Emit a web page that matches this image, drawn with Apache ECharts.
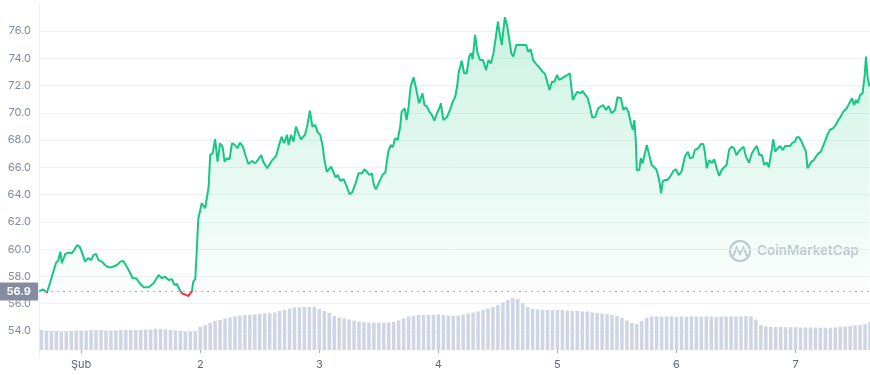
<!DOCTYPE html>
<html><head><meta charset="utf-8">
<script src="https://cdn.jsdelivr.net/npm/echarts@6/dist/echarts.min.js"></script>
<style>html,body{margin:0;padding:0;background:#fff}#c{width:870px;height:375px}</style>
</head><body><div id="c"></div>
<script>
// X tick labels (hours since 1 Feb 00:00)
const dayTicks = [0, 24, 48, 72, 96, 120, 144];
const dayLabels = ['Şub', '2', '3', '4', '5', '6', '7'];
// Y axis
const yMin = 52, yMax = 78, yStep = 2;
const baseline = 56.9;

// Price series: hours since 1 Feb 00:00 and price
const priceHours = [
-8.5,-7.7,-6.9,-6.3,-5.6,-5.1,-4.6,-4.2,-3.9,-3.2,-2.6,-1.9,-1.4,-0.8,-0.3,0.1,0.8,1.4,2.0,2.5,3.0,3.5,4.2,4.8,5.5,6.1,6.5,7.2,7.9,8.5,9.2,9.9,10.4,11.1,11.8,12.6,13.6,14.6,15.6,16.3,16.9,17.6,18.3,18.8,19.3,19.8,20.3,21.1,21.6,22.3,22.6,23.0,23.3,23.6,
24.3,25.0,25.7,26.0,26.5,27.0,27.5,28.0,28.5,28.9,29.4,29.9,30.4,31.0,31.5,32.0,32.6,33.1,33.7,34.4,35.1,35.7,36.3,36.7,37.5,38.4,39.3,39.8,40.4,40.9,41.5,41.8,42.3,42.8,43.3,43.8,44.3,45.1,45.6,46.1,46.6,47.2,47.6,48.2,48.7,49.0,49.5,49.8,
50.4,50.8,51.3,51.7,52.2,52.9,53.4,54.1,54.6,55.2,55.9,56.6,57.1,57.6,58.1,58.6,59.0,59.4,60.1,60.8,61.3,61.9,62.4,62.8,63.3,63.8,64.3,64.6,65.2,65.6,66.0,66.4,67.0,67.5,68.1,68.8,69.2,69.7,70.2,70.7,71.2,71.7,72.2,72.5,73.0,73.7,
74.4,74.9,75.4,75.8,76.1,76.4,76.7,77.2,77.7,78.2,78.6,78.9,79.4,79.9,80.4,81.0,81.6,82.1,82.6,83.1,83.6,84.0,84.4,84.8,85.1,85.4,85.9,86.3,86.7,87.1,87.7,88.1,88.7,89.1,89.7,90.1,90.6,91.1,91.6,92.2,92.6,93.0,93.5,94.0,94.4,94.9,95.4,95.9,96.4,96.9,97.4,98.0,98.5,
99.1,99.5,100.0,100.6,101.1,101.6,102.1,102.6,103.0,103.6,104.2,104.6,105.2,105.8,106.3,106.9,107.6,108.1,108.8,109.3,109.8,110.3,110.8,111.2,111.5,111.8,112.0,112.5,112.8,113.2,113.5,114.0,114.5,115.0,115.5,116.0,116.5,116.9,117.2,117.7,118.2,118.7,119.4,119.9,
120.4,121.0,121.7,122.3,122.7,123.3,123.7,124.4,124.9,125.4,125.7,126.1,126.6,127.1,127.6,128.1,128.6,129.1,129.6,130.1,130.6,131.1,131.6,132.1,132.6,133.0,133.5,134.0,134.6,135.2,135.6,136.2,136.7,137.2,137.7,138.2,138.6,139.2,139.5,139.9,
140.4,140.9,141.4,141.9,142.3,142.9,143.4,143.9,144.2,144.7,145.2,145.7,146.1,146.4,146.8,147.2,147.7,148.1,148.6,149.1,149.5,149.9,150.4,150.9,151.6,152.1,152.6,153.1,153.6,154.0,154.3,154.6,155.0,155.4,155.8,156.2,156.5,157.0,157.5,157.9,158.2,158.5,158.9
];
const prices = [
56.90,57.06,56.82,57.50,58.35,58.97,59.20,59.82,58.97,59.65,59.75,59.70,59.94,60.30,60.18,59.82,59.09,59.34,59.20,59.58,59.65,59.20,59.09,58.84,58.67,58.67,58.53,58.84,59.09,59.14,58.72,58.24,57.87,57.87,57.50,57.21,57.21,57.50,58.11,57.87,57.99,57.74,57.80,57.38,57.45,57.06,56.77,56.65,56.57,56.89,57.62,57.80,59.90,62.20,
63.37,63.00,64.59,66.91,67.03,68.06,66.42,67.77,67.52,66.42,66.67,66.59,67.77,67.64,67.40,67.81,67.52,66.91,66.25,66.47,66.30,66.59,66.91,66.42,65.93,66.47,66.84,67.52,68.25,67.77,68.38,67.64,68.38,67.89,68.98,68.50,68.06,68.38,69.11,70.16,68.98,69.11,68.62,68.38,67.52,66.60,65.68,65.61,
66.05,65.68,65.27,65.44,65.02,65.13,64.71,64.03,64.15,64.71,65.56,65.56,65.86,65.68,65.44,65.56,64.71,64.39,64.95,65.49,65.61,67.15,67.64,67.47,68.13,68.01,68.98,70.08,70.33,69.47,70.45,71.92,72.60,71.80,70.70,71.43,70.57,70.45,70.08,69.84,69.42,69.97,70.33,70.70,69.47,69.67,
70.27,70.82,71.18,72.00,73.00,73.38,73.82,72.90,72.90,74.12,74.37,73.93,75.71,74.37,73.87,73.87,73.14,73.87,73.63,74.37,75.58,76.68,75.71,74.97,76.07,77.00,76.32,75.34,74.37,74.12,74.97,74.85,74.97,74.85,74.97,74.48,74.66,73.87,73.63,73.38,73.51,73.02,72.85,72.17,71.67,72.28,72.28,72.77,72.41,72.53,72.65,72.77,72.90,
70.94,71.23,71.55,71.43,71.60,71.31,71.07,70.40,69.67,69.67,70.33,70.45,70.57,70.21,70.50,69.97,70.21,71.14,71.07,70.21,70.41,70.08,69.23,68.74,69.47,67.88,65.81,65.81,66.67,66.30,66.84,67.64,66.91,66.18,66.01,65.81,65.08,64.10,64.95,65.08,65.08,65.32,65.76,65.86,
65.44,65.68,66.79,67.15,66.67,66.74,67.28,67.40,67.72,67.72,67.15,65.93,66.54,66.30,66.59,65.93,65.37,65.81,66.01,66.18,67.28,67.52,67.40,66.88,67.20,67.28,67.52,66.79,66.35,67.03,67.28,67.57,66.91,66.91,66.18,66.35,66.01,67.28,68.06,67.15,
67.40,67.57,67.28,67.57,67.64,67.57,67.81,67.89,68.21,68.21,67.89,67.47,67.15,65.93,66.18,66.42,66.54,66.79,67.03,67.15,67.28,67.89,68.38,68.74,68.87,69.11,69.47,69.72,70.08,69.97,70.33,70.45,70.82,71.07,70.57,70.94,70.70,71.31,71.43,72.65,74.12,72.65,71.92
];

// Hourly volume bars (relative units), first bar at hour -8
const volumeStartHour = -8;
const volumes = [
20,19.5,19,19,18.5,19,19,19.5,19.5,19.5,20,20,20,19.5,19.5,19.5,20,20,20,20,20,20.5,20.5,21,21,20.5,20,19.5,19,18.5,18.5,19,
23.3,25,27,29,30,31.5,32.5,33.5,34.5,35,35,35.5,36,36.5,37,37.5,39,40,41.5,42.5,42.7,43,43,43.3,
41,39,37,34,32.5,31.5,30.5,29.5,28.5,28,27.5,27.3,27.3,27.3,27.5,28,29.5,31.5,33.5,34,35,35,35,35,
35.5,35,34.5,34,34.5,35.5,36.5,37.5,38.5,40,41.5,43,45,47.5,50,52,51,47,43,41,40.5,40,40,40,
40,40,39.5,39,39,38.5,38.5,37.5,37,36.5,36,35,34,32,29.5,27,26,29,32,33.5,
33.5,33.3,33.5,33.5,33.3,33.5,33,33.5,33.5,33.3,33.5,33.5,33,33.3,33.5,33.5,33.3,33.5,34,
33.5,30.5,25,23.5,23,23,23,22.8,22.8,22.8,22.5,22.5,22.5,22.5,22.3,22.3,22.3,22.5,23,23.5,24,24.5,25,26,28
];

const priceData = priceHours.map((h, i) => [h, prices[i]]);
const volumeData = volumes.map((v, i) => [volumeStartHour + i, v]);

const X_MIN = -8.5, X_MAX = 159;
const chart = echarts.init(document.getElementById('c'));
chart.setOption({
  animation: false,
  grid: [
    {left: 39, right: 0, top: 3.7, bottom: 16.7},
    {left: 39, right: 0, top: 290, bottom: 25}
  ],
  xAxis: [
    {gridIndex: 0, type: 'value', min: X_MIN, max: X_MAX, show: false},
    {gridIndex: 1, type: 'value', min: X_MIN, max: X_MAX,
     axisLine: {show: false}, splitLine: {show: false},
     axisTick: {show: true, customValues: dayTicks, length: 3, lineStyle: {color: '#a6b0c3'}},
     axisLabel: {customValues: dayTicks, formatter: v => dayLabels[dayTicks.indexOf(v)],
       color: '#58667e', fontSize: 11, margin: 9, fontFamily: 'Inter'}}
  ],
  yAxis: [
    {gridIndex: 0, type: 'value', min: yMin, max: yMax, interval: yStep,
     axisLine: {show: true, onZero: false, lineStyle: {color: '#eef0f4'}}, axisTick: {show: false},
     splitLine: {lineStyle: {color: '#eff2f5'}, showMinLine: false, showMaxLine: false},
     axisLabel: {showMinLabel: false, showMaxLabel: false, formatter: v => v.toFixed(1),
       color: '#808a9d', fontSize: 11, margin: 8, fontFamily: 'Inter'}},
    {gridIndex: 1, type: 'value', min: 0, max: 60, show: false}
  ],
  visualMap: {show: false, type: 'piecewise', seriesIndex: 0, dimension: 1,
    pieces: [{gte: 0, lt: baseline, color: '#ea3943'}, {gte: baseline, lte: 1000, color: '#16c784'}]},
  graphic: [
    {type: 'circle', shape: {cx: 740, cy: 251, r: 10}, style: {fill: 'none', stroke: '#c5c9d2', lineWidth: 2.2}},
    {type: 'polyline', shape: {points: [[733.5, 256], [736.5, 247.5], [740, 254], [743.5, 247.5], [747, 256]]},
     style: {stroke: '#c5c9d2', fill: 'none', lineWidth: 2}},
    {type: 'text', x: 757, y: 251, style: {text: 'CoinMarketCap', fontSize: 13.5, fontWeight: 600,
      fill: '#c5c9d2', verticalAlign: 'middle', fontFamily: 'Inter'}}
  ],
  series: [
    {type: 'line', xAxisIndex: 0, yAxisIndex: 0, data: priceData, showSymbol: false, symbol: 'none',
     lineStyle: {width: 2}, z: 3,
     areaStyle: {origin: baseline, color: new echarts.graphic.LinearGradient(0, 0, 0, 1, [
        {offset: 0, color: 'rgba(22,199,132,0.32)'}, {offset: 1, color: 'rgba(22,199,132,0.02)'}])},
     markLine: {silent: true, symbol: 'none', animation: false,
       data: [{yAxis: baseline}],
       lineStyle: {type: [2, 4], color: '#a6b0c3', width: 1},
       label: {position: 'start', formatter: '56.9', backgroundColor: '#858ca2', color: '#fff',
         padding: [4, 7, 3, 7], fontSize: 11, fontWeight: 'bold', distance: 1, fontFamily: 'Inter'}}},
    {type: 'bar', xAxisIndex: 1, yAxisIndex: 1, data: volumeData, barWidth: 3.5,
     itemStyle: {color: '#cfd5e3'}, z: 1}
  ]
});
</script>
</body></html>
